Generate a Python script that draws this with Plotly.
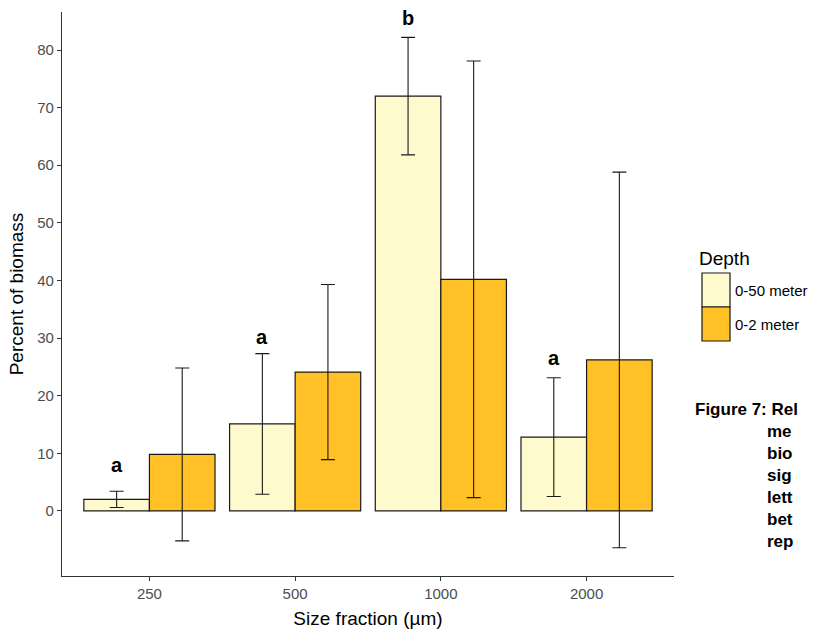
import plotly.graph_objects as go

# ---------------- data ----------------
categories = ["250", "500", "1000", "2000"]
series_names = ["0-50 meter", "0-2 meter"]
mean_0_50 = [2.0, 15.1, 72.0, 12.8]
err_0_50 = [1.4, 12.2, 10.2, 10.3]
mean_0_2 = [9.8, 24.1, 40.2, 26.2]
err_0_2 = [15.0, 15.2, 37.9, 32.6]
letters = ["a", "a", "b", "a"]
letters_y = [8.0, 30.2, 85.6, 26.6]
caption_lines = ["Figure 7: Rel", "me", "bio", "sig", "lett", "bet", "rep"]

colors = ["#FFFACD", "#FFC125"]

W, H = 814, 636
L, R, T, B = 62, 674, 12, 576


def px(x):
    return (x - L) / (R - L)


def py(y):
    return (B - y) / (B - T)


fig = go.Figure()
for name, mean, err, col in zip(series_names, [mean_0_50, mean_0_2],
                                [err_0_50, err_0_2], colors):
    fig.add_trace(go.Bar(
        x=categories, y=mean, name=name,
        marker=dict(color=col, line=dict(color="#1a1a1a", width=1.2)),
        error_y=dict(type="data", array=err, visible=True,
                     color="#1a1a1a", thickness=1.1, width=7),
        showlegend=False,
    ))

annotations = []
for i, (lt, ly) in enumerate(zip(letters, letters_y)):
    annotations.append(dict(
        x=i - 0.225, y=ly, xref="x", yref="y", text="<b>%s</b>" % lt,
        showarrow=False, font=dict(family="Liberation Sans", size=20, color="#000"),
        xanchor="center", yanchor="middle"))

# legend (drawn manually to match key sizes)
shapes = []
annotations.append(dict(x=px(697), y=py(258), xref="paper", yref="paper",
                        text="Depth", showarrow=False, xanchor="left", yanchor="middle",
                        font=dict(family="Liberation Sans", size=19, color="#000")))
key_top = 273
key_h = 34
for k, (name, col) in enumerate(zip(series_names, colors)):
    y0 = key_top + k * key_h
    shapes.append(dict(type="rect", xref="paper", yref="paper",
                       x0=px(702), x1=px(730), y0=py(y0), y1=py(y0 + key_h),
                       fillcolor=col, line=dict(color="#1a1a1a", width=1.2)))
    annotations.append(dict(x=px(733), y=py(y0 + key_h / 2), xref="paper", yref="paper",
                            text=name, showarrow=False, xanchor="left", yanchor="middle",
                            font=dict(family="Liberation Sans", size=15, color="#000")))

# caption text at right (as visible in the reference)
for j, line in enumerate(caption_lines):
    annotations.append(dict(x=px(693 if j == 0 else 765), y=py(409 + 22 * j),
                            xref="paper", yref="paper", text="<b>%s</b>" % line,
                            showarrow=False, xanchor="left", yanchor="middle",
                            font=dict(family="Liberation Sans", size=17, color="#000")))

fig.update_layout(
    width=W, height=H,
    margin=dict(l=L, r=W - R, t=T, b=H - B, pad=0),
    paper_bgcolor="white", plot_bgcolor="white",
    barmode="group", bargap=0.1, bargroupgap=0,
    annotations=annotations, shapes=shapes,
    font=dict(family="Liberation Sans"),
)
fig.update_xaxes(
    range=[-0.6, 3.6], showline=True, linecolor="#333", linewidth=1.3,
    ticks="outside", ticklen=4, tickcolor="#333", showgrid=False, zeroline=False,
    tickfont=dict(size=15, color="#4d4d4d"),
    title=dict(text="Size fraction (µm)", font=dict(size=19, color="#000"), standoff=10),
)
fig.update_yaxes(
    range=[-11.3, 86.6], showline=True, linecolor="#333", linewidth=1.3,
    ticks="outside", ticklen=4, tickcolor="#333", showgrid=False, zeroline=False,
    tickvals=[0, 10, 20, 30, 40, 50, 60, 70, 80],
    tickfont=dict(size=15, color="#4d4d4d"),
    title=dict(text="Percent of biomass", font=dict(size=19, color="#000"), standoff=8),
)

fig.write_html("out.html")
